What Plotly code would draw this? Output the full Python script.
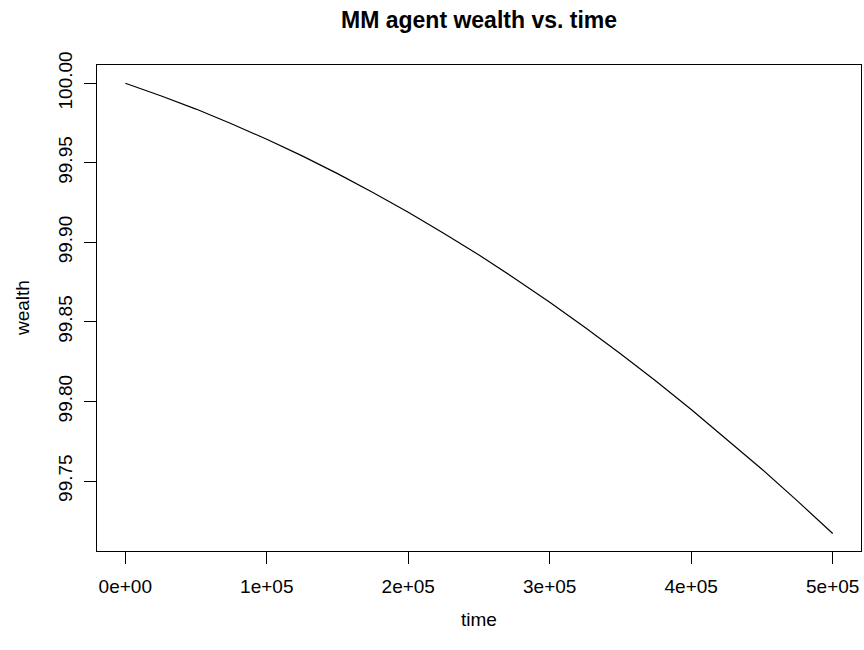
import plotly.graph_objects as go

# readings from the reference picture
time = [0, 25000, 50000, 75000, 100000, 125000, 150000, 175000, 200000, 225000,
        250000, 275000, 300000, 325000, 350000, 375000, 400000, 425000, 450000,
        475000, 500000]
wealth = [100.0000, 99.9922, 99.9838, 99.9746, 99.9648, 99.9544, 99.9432, 99.9314,
          99.9190, 99.9058, 99.8920, 99.8775, 99.8624, 99.8465, 99.8300, 99.8129,
          99.7950, 99.7765, 99.7574, 99.7375, 99.7170]

x_tickvals = [0, 100000, 200000, 300000, 400000, 500000]
x_ticktext = ["0e+00", "1e+05", "2e+05", "3e+05", "4e+05", "5e+05"]
y_tickvals = [99.75, 99.80, 99.85, 99.90, 99.95, 100.00]
y_ticktext = ["99.75", "99.80", "99.85", "99.90", "99.95", "100.00"]

FONT = "Liberation Sans, Arial, sans-serif"
W, H = 864, 650
L, R, T, B = 97, 3, 65, 99

fig = go.Figure()
fig.add_trace(go.Scatter(x=time, y=wealth, mode="lines",
                         line=dict(color="black", width=1.2), hoverinfo="skip",
                         showlegend=False))

fig.update_layout(
    width=W, height=H,
    margin=dict(l=L, r=R, t=T, b=B),
    paper_bgcolor="white", plot_bgcolor="white",
    font=dict(family=FONT, size=19, color="black"),
    showlegend=False,
)
fig.update_xaxes(
    range=[-20000, 520000], tickvals=x_tickvals, ticktext=x_ticktext,
    showgrid=False, zeroline=False, showline=True, mirror=True,
    linecolor="black", linewidth=1.2, ticks="outside", ticklen=12,
    tickcolor="black", tickwidth=1.2, ticklabelstandoff=6,
    tickfont=dict(family=FONT, size=19, color="black"),
)
fig.update_yaxes(
    range=[99.7060, 100.0115], tickvals=y_tickvals, ticktext=y_ticktext,
    showgrid=False, zeroline=False, showline=True, mirror=True,
    linecolor="black", linewidth=1.2, ticks="outside", ticklen=12,
    tickcolor="black", tickwidth=1.2, tickangle=-90, ticklabelstandoff=4,
    tickfont=dict(family=FONT, size=19, color="black"),
)

annotations = [
    dict(text="<b>MM agent wealth vs. time</b>", xref="paper", yref="paper",
         x=0.5, y=1, yshift=65 - 20, xanchor="center", yanchor="middle",
         showarrow=False, font=dict(family=FONT, size=23, color="black")),
    dict(text="time", xref="paper", yref="paper", x=0.5, y=0,
         yshift=-(619 - 551), xanchor="center", yanchor="middle",
         showarrow=False, font=dict(family=FONT, size=19, color="black")),
    dict(text="wealth", xref="paper", yref="paper", x=0, y=0.5,
         xshift=-(97 - 22), xanchor="center", yanchor="middle", textangle=-90,
         showarrow=False, font=dict(family=FONT, size=19, color="black")),
]
fig.update_layout(annotations=annotations)

fig.write_html("out.html", config={"displayModeBar": False},
               post_script="document.body.style.margin='0';document.body.style.overflow='hidden';")
